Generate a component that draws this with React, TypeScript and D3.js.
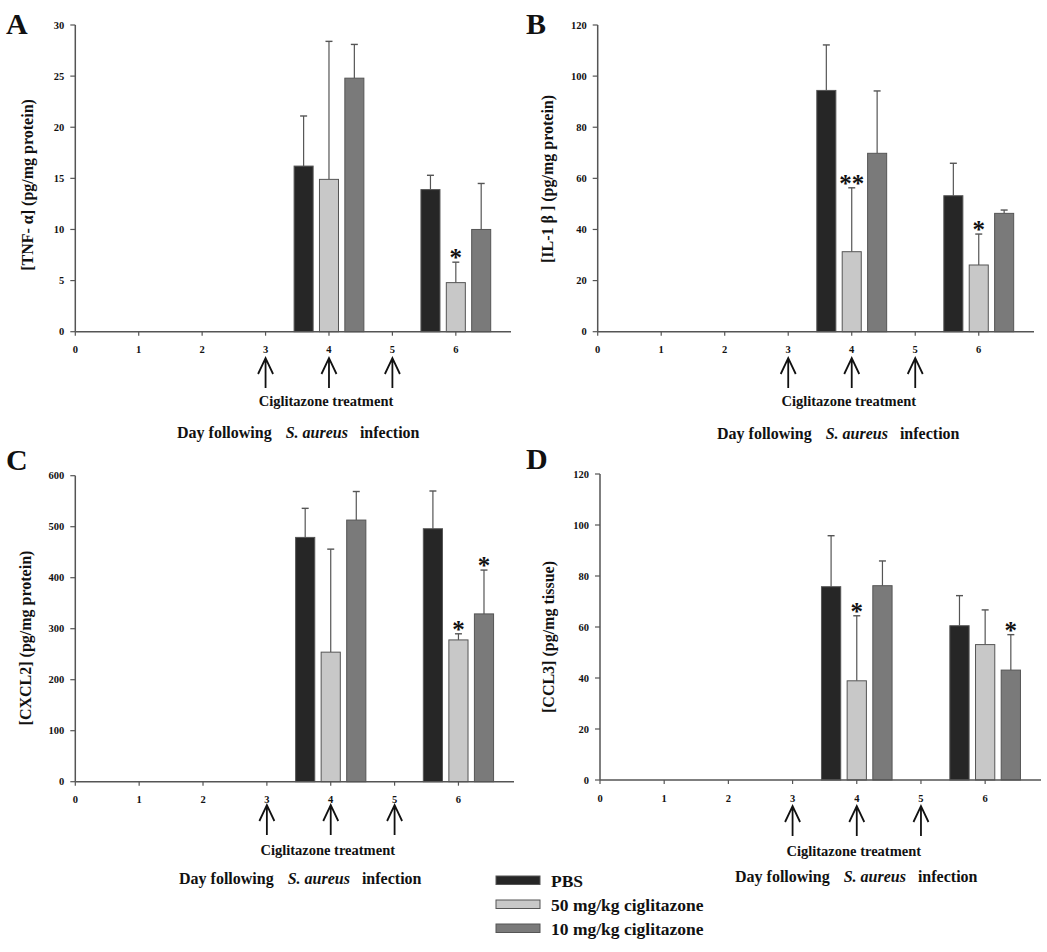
import React from "react";
import * as d3 from "d3";

// ---------- data ----------
const groups = ["PBS", "50 mg/kg ciglitazone", "10 mg/kg ciglitazone"];
const groupColors = ["#262626", "#c8c8c8", "#7a7a7a"];
const barDays = [4, 6];
const xTicks = [0, 1, 2, 3, 4, 5, 6];
const treatmentDays = [3, 4, 5];

// means: [day4 PBS, day4 50, day4 10, day6 PBS, day6 50, day6 10]
const tnfMeans = [16.2, 14.9, 24.8, 13.9, 4.8, 10.0];
const tnfErrors = [4.9, 13.5, 3.3, 1.4, 2.0, 4.5];
const tnfStars = ["", "", "", "", "*", ""];
const tnfTicks = [0, 5, 10, 15, 20, 25, 30];

const il1Means = [94.4, 31.3, 69.8, 53.2, 26.1, 46.3];
const il1Errors = [17.8, 25.0, 24.4, 12.7, 12.1, 1.3];
const il1Stars = ["", "**", "", "", "*", ""];
const il1Ticks = [0, 20, 40, 60, 80, 100, 120];

const cxclMeans = [479, 254, 513, 496, 278, 329];
const cxclErrors = [57, 202, 56, 74, 12, 86];
const cxclStars = ["", "", "", "", "*", "*"];
const cxclTicks = [0, 100, 200, 300, 400, 500, 600];

const cclMeans = [75.8, 38.9, 76.2, 60.5, 53.1, 43.1];
const cclErrors = [20.0, 25.5, 9.7, 11.8, 13.6, 13.9];
const cclStars = ["", "*", "", "", "", "*"];
const cclTicks = [0, 20, 40, 60, 80, 100, 120];

// ---------- layout ----------
const FONT = "'Liberation Serif', 'DejaVu Serif', serif";
const AXIS = "#555";

type Panel = {
  letter: string;
  yLabel: string;
  means: number[];
  errors: number[];
  stars: string[];
  ticks: number[];
  x0: number;
  x1: number;
  yTop: number;
  yBot: number;
  letterX: number;
  letterY: number;
  labelX: number;
  labelY: number;
  arrowTop: number;
  captionY: number;
  dayX: number;
  dayY: number;
};

const panels: Panel[] = [
  {
    letter: "A", yLabel: "[TNF- α] (pg/mg protein)", means: tnfMeans, errors: tnfErrors, stars: tnfStars, ticks: tnfTicks,
    x0: 75.3, x1: 511, yTop: 25, yBot: 331.7, letterX: 6, letterY: 34, labelX: 27, labelY: 185,
    arrowTop: 358, captionY: 406, dayX: 177, dayY: 438,
  },
  {
    letter: "B", yLabel: "[IL-1 β ] (pg/mg protein)", means: il1Means, errors: il1Errors, stars: il1Stars, ticks: il1Ticks,
    x0: 597.7, x1: 1034, yTop: 25, yBot: 331.7, letterX: 526, letterY: 34, labelX: 547, labelY: 179,
    arrowTop: 358, captionY: 406, dayX: 717, dayY: 439,
  },
  {
    letter: "C", yLabel: "[CXCL2] (pg/mg protein)", means: cxclMeans, errors: cxclErrors, stars: cxclStars, ticks: cxclTicks,
    x0: 75.3, x1: 514, yTop: 475.7, yBot: 781.7, letterX: 6, letterY: 470, labelX: 25, labelY: 638,
    arrowTop: 805, captionY: 855, dayX: 179, dayY: 884,
  },
  {
    letter: "D", yLabel: "[CCL3] (pg/mg tissue)", means: cclMeans, errors: cclErrors, stars: cclStars, ticks: cclTicks,
    x0: 600, x1: 1041, yTop: 474, yBot: 780, letterX: 526, letterY: 469, labelX: 548, labelY: 637,
    arrowTop: 806, captionY: 856, dayX: 735, dayY: 882,
  },
];

const X_MAX = 6.87;
const OFFSETS = [-0.4, 0, 0.4];
const BAR_W = 0.3;

function PanelView({ p }: { p: Panel }) {
  const x = d3.scaleLinear().domain([0, X_MAX]).range([p.x0, p.x1]);
  const yMax = p.ticks[p.ticks.length - 1];
  const y = d3.scaleLinear().domain([0, yMax]).range([p.yBot, p.yTop]);
  const unit = x(1) - x(0);
  const bw = BAR_W * unit;

  const bars = barDays.flatMap((day, di) =>
    groups.map((g, gi) => {
      const i = di * groups.length + gi;
      return { day, gi, mean: p.means[i], err: p.errors[i], star: p.stars[i] };
    })
  );

  return (
    <g>
      <text x={p.letterX} y={p.letterY} fontFamily={FONT} fontWeight="bold" fontSize={30} fill="#111">
        {p.letter}
      </text>
      <text
        transform={`translate(${p.labelX},${p.labelY}) rotate(-90)`}
        textAnchor="middle"
        dominantBaseline="central"
        fontFamily={FONT}
        fontWeight="bold"
        fontSize={16}
        fill="#111"
      >
        {p.yLabel}
      </text>

      {/* bars */}
      {bars.map((b, k) => {
        const cx = x(b.day + OFFSETS[b.gi]);
        const top = y(b.mean);
        const et = y(b.mean + b.err);
        return (
          <g key={k}>
            <line x1={cx} x2={cx} y1={top} y2={et} stroke={AXIS} strokeWidth={1.2} />
            <line x1={cx - 3.5} x2={cx + 3.5} y1={et} y2={et} stroke={AXIS} strokeWidth={1.4} />
            <rect x={cx - bw / 2} y={top} width={bw} height={p.yBot - top} fill={groupColors[b.gi]} stroke="#555" strokeWidth={1} />
            {b.star && (
              <text x={cx} y={et + 4} textAnchor="middle" fontFamily={FONT} fontWeight="bold" fontSize={25} fill="#111">
                {b.star}
              </text>
            )}
          </g>
        );
      })}

      {/* y axis */}
      <line x1={p.x0} x2={p.x0} y1={p.yTop} y2={p.yBot} stroke={AXIS} strokeWidth={1.5} />
      {p.ticks.map((t) => (
        <g key={t}>
          <line x1={p.x0 - 5} x2={p.x0} y1={y(t)} y2={y(t)} stroke={AXIS} strokeWidth={1.2} />
          <text x={p.x0 - 11} y={y(t)} textAnchor="end" dominantBaseline="central" fontFamily={FONT} fontWeight="bold" fontSize={10.5} fill="#111">
            {t}
          </text>
        </g>
      ))}
      {/* x axis */}
      <line x1={p.x0} x2={p.x1} y1={p.yBot} y2={p.yBot} stroke={AXIS} strokeWidth={1.5} />
      {xTicks.map((t) => (
        <g key={t}>
          <line x1={x(t)} x2={x(t)} y1={p.yBot} y2={p.yBot + 4} stroke={AXIS} strokeWidth={1.2} />
          <text x={x(t)} y={p.yBot + 18} textAnchor="middle" dominantBaseline="central" fontFamily={FONT} fontWeight="bold" fontSize={10.5} fill="#111">
            {t}
          </text>
        </g>
      ))}

      {/* treatment arrows */}
      {treatmentDays.map((d) => {
        const ax = x(d);
        const t = p.arrowTop;
        return (
          <path
            key={d}
            d={`M${ax},${t + 30} L${ax},${t} M${ax - 7.5},${t + 16} L${ax},${t} L${ax + 7.5},${t + 16}`}
            fill="none"
            stroke="#111"
            strokeWidth={1.8}
          />
        );
      })}
      <text x={x(4) - 3} y={p.captionY} textAnchor="middle" fontFamily={FONT} fontWeight="bold" fontSize={14.5} fill="#111">
        Ciglitazone treatment
      </text>
      <text x={p.dayX} y={p.dayY} fontFamily={FONT} fontWeight="bold" fontSize={16} fill="#111">
        <tspan>Day following</tspan>
        <tspan dx={14} fontStyle="italic">S. aureus</tspan>
        <tspan dx={12}>infection</tspan>
      </text>
    </g>
  );
}

const legendY = [876, 900, 924];

export default function App() {
  return (
    <svg width={1047} height={952} style={{ position: "absolute", left: 0, top: 0, background: "#fff" }}>
      <rect width={1047} height={952} fill="#fff" />
      {panels.map((p) => (
        <PanelView key={p.letter} p={p} />
      ))}
      {groups.map((g, i) => (
        <g key={g}>
          <rect x={496} y={legendY[i]} width={44} height={8.5} fill={groupColors[i]} stroke="#555" strokeWidth={1} />
          <text x={551} y={legendY[i] + 10.5} fontFamily={FONT} fontWeight="bold" fontSize={17.5} fill="#111">
            {g}
          </text>
        </g>
      ))}
    </svg>
  );
}
